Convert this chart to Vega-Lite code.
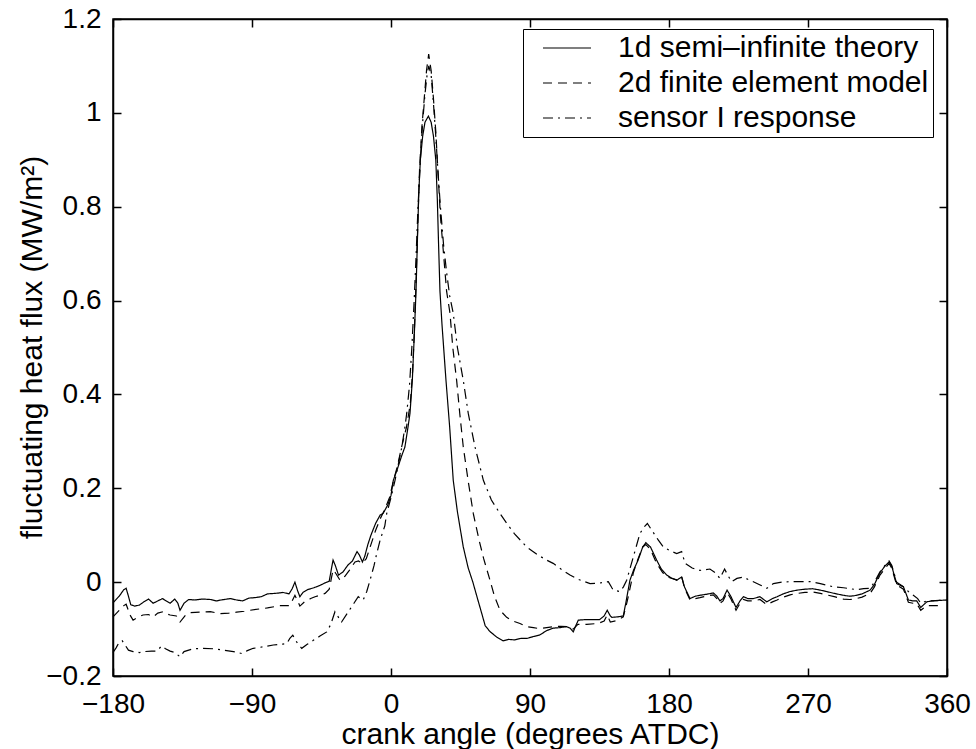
{
"$schema":"https://vega.github.io/schema/vega-lite/v6.json",
"autosize":"none",
"width":834,"height":657,
"padding":{"left":113,"top":19,"right":29,"bottom":73},
"background":"white",
"config":{"view":{"stroke":"black","strokeWidth":1.5},"font":"Liberation Sans"},
"datasets":{"flux":[
{"s":"theory","x":-180,"y":-0.044},{"s":"theory","x":-176,"y":-0.03},{"s":"theory","x":-173,"y":-0.016},{"s":"theory","x":-171.5,"y":-0.013},{"s":"theory","x":-170,"y":-0.03},{"s":"theory","x":-168.5,"y":-0.048},{"s":"theory","x":-166,"y":-0.051},{"s":"theory","x":-163,"y":-0.049},{"s":"theory","x":-160,"y":-0.042},{"s":"theory","x":-157,"y":-0.036},{"s":"theory","x":-154,"y":-0.045},{"s":"theory","x":-151,"y":-0.04},{"s":"theory","x":-148,"y":-0.035},{"s":"theory","x":-145.5,"y":-0.04},{"s":"theory","x":-143,"y":-0.045},{"s":"theory","x":-140,"y":-0.036},{"s":"theory","x":-138,"y":-0.045},{"s":"theory","x":-136.6,"y":-0.06},{"s":"theory","x":-134,"y":-0.045},{"s":"theory","x":-131,"y":-0.037},{"s":"theory","x":-127,"y":-0.038},{"s":"theory","x":-122,"y":-0.036},{"s":"theory","x":-117,"y":-0.037},{"s":"theory","x":-113,"y":-0.04},{"s":"theory","x":-110,"y":-0.038},{"s":"theory","x":-104,"y":-0.035},{"s":"theory","x":-100,"y":-0.038},{"s":"theory","x":-96,"y":-0.04},{"s":"theory","x":-92,"y":-0.034},{"s":"theory","x":-88,"y":-0.033},{"s":"theory","x":-84,"y":-0.031},{"s":"theory","x":-80,"y":-0.025},{"s":"theory","x":-75,"y":-0.024},{"s":"theory","x":-70,"y":-0.022},{"s":"theory","x":-66,"y":-0.025},{"s":"theory","x":-64,"y":-0.014},{"s":"theory","x":-62.2,"y":0.0},{"s":"theory","x":-60.5,"y":-0.018},{"s":"theory","x":-59,"y":-0.031},{"s":"theory","x":-57,"y":-0.022},{"s":"theory","x":-54,"y":-0.016},{"s":"theory","x":-50,"y":-0.012},{"s":"theory","x":-46,"y":-0.007},{"s":"theory","x":-43,"y":-0.002},{"s":"theory","x":-40,"y":0.002},{"s":"theory","x":-38.5,"y":0.03},{"s":"theory","x":-37.5,"y":0.047},{"s":"theory","x":-36,"y":0.035},{"s":"theory","x":-34,"y":0.015},{"s":"theory","x":-31,"y":0.022},{"s":"theory","x":-28,"y":0.036},{"s":"theory","x":-25,"y":0.045},{"s":"theory","x":-22,"y":0.065},{"s":"theory","x":-20.5,"y":0.058},{"s":"theory","x":-18.5,"y":0.043},{"s":"theory","x":-17,"y":0.055},{"s":"theory","x":-15,"y":0.08},{"s":"theory","x":-13,"y":0.1},{"s":"theory","x":-10,"y":0.125},{"s":"theory","x":-7,"y":0.143},{"s":"theory","x":-5,"y":0.147},{"s":"theory","x":-2,"y":0.165},{"s":"theory","x":0,"y":0.185},{"s":"theory","x":1.5,"y":0.217},{"s":"theory","x":4,"y":0.24},{"s":"theory","x":7,"y":0.27},{"s":"theory","x":9,"y":0.288},{"s":"theory","x":11,"y":0.33},{"s":"theory","x":12.3,"y":0.36},{"s":"theory","x":13.8,"y":0.43},{"s":"theory","x":15,"y":0.52},{"s":"theory","x":16.2,"y":0.62},{"s":"theory","x":17.2,"y":0.74},{"s":"theory","x":18,"y":0.83},{"s":"theory","x":19,"y":0.9},{"s":"theory","x":20.5,"y":0.95},{"s":"theory","x":22,"y":0.98},{"s":"theory","x":24.2,"y":0.993},{"s":"theory","x":26,"y":0.98},{"s":"theory","x":27.5,"y":0.95},{"s":"theory","x":29,"y":0.9},{"s":"theory","x":30,"y":0.815},{"s":"theory","x":30.8,"y":0.72},{"s":"theory","x":31.7,"y":0.62},{"s":"theory","x":33,"y":0.55},{"s":"theory","x":35.6,"y":0.43},{"s":"theory","x":38,"y":0.33},{"s":"theory","x":40.3,"y":0.217},{"s":"theory","x":43,"y":0.15},{"s":"theory","x":46.8,"y":0.075},{"s":"theory","x":50,"y":0.03},{"s":"theory","x":53,"y":0.0},{"s":"theory","x":56,"y":-0.035},{"s":"theory","x":58.7,"y":-0.066},{"s":"theory","x":61,"y":-0.093},{"s":"theory","x":64,"y":-0.105},{"s":"theory","x":68.4,"y":-0.117},{"s":"theory","x":72.5,"y":-0.125},{"s":"theory","x":76,"y":-0.122},{"s":"theory","x":80,"y":-0.123},{"s":"theory","x":84,"y":-0.12},{"s":"theory","x":88,"y":-0.12},{"s":"theory","x":92,"y":-0.116},{"s":"theory","x":96,"y":-0.113},{"s":"theory","x":101,"y":-0.103},{"s":"theory","x":105,"y":-0.098},{"s":"theory","x":109,"y":-0.097},{"s":"theory","x":113.8,"y":-0.095},{"s":"theory","x":116,"y":-0.098},{"s":"theory","x":118,"y":-0.106},{"s":"theory","x":120,"y":-0.09},{"s":"theory","x":121.3,"y":-0.081},{"s":"theory","x":125,"y":-0.08},{"s":"theory","x":130,"y":-0.08},{"s":"theory","x":135,"y":-0.08},{"s":"theory","x":138,"y":-0.072},{"s":"theory","x":140,"y":-0.06},{"s":"theory","x":142,"y":-0.072},{"s":"theory","x":143,"y":-0.075},{"s":"theory","x":147,"y":-0.074},{"s":"theory","x":150.4,"y":-0.072},{"s":"theory","x":152,"y":-0.045},{"s":"theory","x":154.7,"y":0.004},{"s":"theory","x":157,"y":0.025},{"s":"theory","x":160,"y":0.047},{"s":"theory","x":163,"y":0.075},{"s":"theory","x":165,"y":0.084},{"s":"theory","x":168,"y":0.075},{"s":"theory","x":172,"y":0.047},{"s":"theory","x":175,"y":0.028},{"s":"theory","x":178.5,"y":0.015},{"s":"theory","x":182,"y":0.008},{"s":"theory","x":185,"y":0.004},{"s":"theory","x":188.2,"y":0.011},{"s":"theory","x":190,"y":-0.01},{"s":"theory","x":193.6,"y":-0.035},{"s":"theory","x":197,"y":-0.03},{"s":"theory","x":200,"y":-0.028},{"s":"theory","x":204,"y":-0.026},{"s":"theory","x":208.7,"y":-0.023},{"s":"theory","x":211,"y":-0.03},{"s":"theory","x":213,"y":-0.04},{"s":"theory","x":215,"y":-0.035},{"s":"theory","x":217.6,"y":-0.017},{"s":"theory","x":220,"y":-0.03},{"s":"theory","x":223.4,"y":-0.054},{"s":"theory","x":226,"y":-0.04},{"s":"theory","x":228.2,"y":-0.031},{"s":"theory","x":231,"y":-0.035},{"s":"theory","x":234.6,"y":-0.035},{"s":"theory","x":238.9,"y":-0.031},{"s":"theory","x":243.3,"y":-0.042},{"s":"theory","x":247,"y":-0.035},{"s":"theory","x":250,"y":-0.031},{"s":"theory","x":254,"y":-0.025},{"s":"theory","x":258.4,"y":-0.02},{"s":"theory","x":263,"y":-0.017},{"s":"theory","x":268,"y":-0.015},{"s":"theory","x":273,"y":-0.014},{"s":"theory","x":278,"y":-0.017},{"s":"theory","x":282,"y":-0.02},{"s":"theory","x":287,"y":-0.024},{"s":"theory","x":292.9,"y":-0.028},{"s":"theory","x":297,"y":-0.03},{"s":"theory","x":300,"y":-0.029},{"s":"theory","x":305,"y":-0.025},{"s":"theory","x":310.2,"y":-0.017},{"s":"theory","x":313,"y":-0.005},{"s":"theory","x":316.6,"y":0.02},{"s":"theory","x":320,"y":0.035},{"s":"theory","x":322.5,"y":0.043},{"s":"theory","x":324.2,"y":0.034},{"s":"theory","x":327.4,"y":-0.003},{"s":"theory","x":331.8,"y":-0.01},{"s":"theory","x":335,"y":-0.038},{"s":"theory","x":338,"y":-0.04},{"s":"theory","x":340.4,"y":-0.04},{"s":"theory","x":343,"y":-0.054},{"s":"theory","x":346.9,"y":-0.042},{"s":"theory","x":350,"y":-0.04},{"s":"theory","x":355,"y":-0.039},{"s":"theory","x":360,"y":-0.038},
{"s":"fem","x":-180,"y":-0.074},{"s":"fem","x":-176,"y":-0.06},{"s":"fem","x":-173,"y":-0.05},{"s":"fem","x":-171.5,"y":-0.047},{"s":"fem","x":-169,"y":-0.07},{"s":"fem","x":-167,"y":-0.081},{"s":"fem","x":-164,"y":-0.075},{"s":"fem","x":-160.6,"y":-0.07},{"s":"fem","x":-157,"y":-0.069},{"s":"fem","x":-154,"y":-0.074},{"s":"fem","x":-151,"y":-0.066},{"s":"fem","x":-147.6,"y":-0.063},{"s":"fem","x":-145,"y":-0.068},{"s":"fem","x":-143,"y":-0.07},{"s":"fem","x":-139,"y":-0.072},{"s":"fem","x":-136.6,"y":-0.085},{"s":"fem","x":-133,"y":-0.07},{"s":"fem","x":-130,"y":-0.065},{"s":"fem","x":-124,"y":-0.064},{"s":"fem","x":-117,"y":-0.063},{"s":"fem","x":-110.7,"y":-0.067},{"s":"fem","x":-105,"y":-0.066},{"s":"fem","x":-100,"y":-0.064},{"s":"fem","x":-95,"y":-0.062},{"s":"fem","x":-91.3,"y":-0.06},{"s":"fem","x":-85,"y":-0.057},{"s":"fem","x":-80,"y":-0.055},{"s":"fem","x":-72,"y":-0.05},{"s":"fem","x":-66,"y":-0.05},{"s":"fem","x":-64,"y":-0.04},{"s":"fem","x":-62.2,"y":-0.028},{"s":"fem","x":-60.5,"y":-0.04},{"s":"fem","x":-59,"y":-0.051},{"s":"fem","x":-56,"y":-0.042},{"s":"fem","x":-52,"y":-0.035},{"s":"fem","x":-49.2,"y":-0.031},{"s":"fem","x":-45,"y":-0.027},{"s":"fem","x":-42.7,"y":-0.024},{"s":"fem","x":-40,"y":-0.015},{"s":"fem","x":-38.5,"y":0.01},{"s":"fem","x":-37.5,"y":0.026},{"s":"fem","x":-36,"y":0.02},{"s":"fem","x":-33,"y":0.004},{"s":"fem","x":-30,"y":0.012},{"s":"fem","x":-27,"y":0.025},{"s":"fem","x":-23.3,"y":0.043},{"s":"fem","x":-21,"y":0.045},{"s":"fem","x":-18.8,"y":0.04},{"s":"fem","x":-16,"y":0.05},{"s":"fem","x":-13,"y":0.08},{"s":"fem","x":-10,"y":0.11},{"s":"fem","x":-7,"y":0.135},{"s":"fem","x":-4,"y":0.155},{"s":"fem","x":-1,"y":0.18},{"s":"fem","x":1.5,"y":0.215},{"s":"fem","x":4,"y":0.245},{"s":"fem","x":7,"y":0.29},{"s":"fem","x":10,"y":0.33},{"s":"fem","x":12.5,"y":0.38},{"s":"fem","x":14,"y":0.45},{"s":"fem","x":15.3,"y":0.55},{"s":"fem","x":16.5,"y":0.67},{"s":"fem","x":17.5,"y":0.78},{"s":"fem","x":18.5,"y":0.88},{"s":"fem","x":20,"y":0.97},{"s":"fem","x":21.5,"y":1.03},{"s":"fem","x":23,"y":1.09},{"s":"fem","x":24.4,"y":1.125},{"s":"fem","x":26,"y":1.09},{"s":"fem","x":27.5,"y":1.03},{"s":"fem","x":29,"y":0.96},{"s":"fem","x":30.5,"y":0.87},{"s":"fem","x":32,"y":0.78},{"s":"fem","x":34,"y":0.7},{"s":"fem","x":36,"y":0.62},{"s":"fem","x":38.2,"y":0.573},{"s":"fem","x":40,"y":0.5},{"s":"fem","x":42.5,"y":0.43},{"s":"fem","x":44.5,"y":0.36},{"s":"fem","x":46.8,"y":0.288},{"s":"fem","x":50,"y":0.215},{"s":"fem","x":53.3,"y":0.146},{"s":"fem","x":57,"y":0.09},{"s":"fem","x":60,"y":0.05},{"s":"fem","x":64.1,"y":0.004},{"s":"fem","x":67,"y":-0.03},{"s":"fem","x":70.6,"y":-0.06},{"s":"fem","x":74.9,"y":-0.075},{"s":"fem","x":79,"y":-0.083},{"s":"fem","x":83.5,"y":-0.088},{"s":"fem","x":88,"y":-0.095},{"s":"fem","x":92.2,"y":-0.097},{"s":"fem","x":96,"y":-0.099},{"s":"fem","x":100.8,"y":-0.097},{"s":"fem","x":105,"y":-0.095},{"s":"fem","x":110,"y":-0.094},{"s":"fem","x":115,"y":-0.095},{"s":"fem","x":118,"y":-0.1},{"s":"fem","x":121,"y":-0.09},{"s":"fem","x":126.7,"y":-0.09},{"s":"fem","x":134,"y":-0.088},{"s":"fem","x":138,"y":-0.083},{"s":"fem","x":140,"y":-0.07},{"s":"fem","x":142,"y":-0.085},{"s":"fem","x":146,"y":-0.082},{"s":"fem","x":150.4,"y":-0.074},{"s":"fem","x":153,"y":-0.04},{"s":"fem","x":156.9,"y":0.02},{"s":"fem","x":160,"y":0.05},{"s":"fem","x":163,"y":0.075},{"s":"fem","x":165,"y":0.08},{"s":"fem","x":168,"y":0.07},{"s":"fem","x":172,"y":0.04},{"s":"fem","x":176,"y":0.02},{"s":"fem","x":180,"y":0.01},{"s":"fem","x":185,"y":0.005},{"s":"fem","x":188.2,"y":0.012},{"s":"fem","x":190,"y":-0.012},{"s":"fem","x":193.6,"y":-0.038},{"s":"fem","x":197,"y":-0.035},{"s":"fem","x":200,"y":-0.033},{"s":"fem","x":204,"y":-0.03},{"s":"fem","x":208.7,"y":-0.027},{"s":"fem","x":211,"y":-0.035},{"s":"fem","x":213,"y":-0.045},{"s":"fem","x":215,"y":-0.04},{"s":"fem","x":217.6,"y":-0.022},{"s":"fem","x":220,"y":-0.035},{"s":"fem","x":223.4,"y":-0.06},{"s":"fem","x":226,"y":-0.045},{"s":"fem","x":228.2,"y":-0.037},{"s":"fem","x":231,"y":-0.04},{"s":"fem","x":234.6,"y":-0.04},{"s":"fem","x":238.9,"y":-0.037},{"s":"fem","x":243.3,"y":-0.048},{"s":"fem","x":247,"y":-0.042},{"s":"fem","x":250,"y":-0.038},{"s":"fem","x":254,"y":-0.032},{"s":"fem","x":258.4,"y":-0.027},{"s":"fem","x":263,"y":-0.024},{"s":"fem","x":268,"y":-0.022},{"s":"fem","x":273,"y":-0.021},{"s":"fem","x":278,"y":-0.024},{"s":"fem","x":282,"y":-0.027},{"s":"fem","x":287,"y":-0.031},{"s":"fem","x":292.9,"y":-0.036},{"s":"fem","x":297,"y":-0.037},{"s":"fem","x":300,"y":-0.036},{"s":"fem","x":305,"y":-0.032},{"s":"fem","x":310.2,"y":-0.024},{"s":"fem","x":313,"y":-0.01},{"s":"fem","x":316.6,"y":0.015},{"s":"fem","x":320,"y":0.03},{"s":"fem","x":322.5,"y":0.04},{"s":"fem","x":324.2,"y":0.03},{"s":"fem","x":327.4,"y":-0.006},{"s":"fem","x":331.8,"y":-0.015},{"s":"fem","x":335,"y":-0.043},{"s":"fem","x":338,"y":-0.045},{"s":"fem","x":340.4,"y":-0.046},{"s":"fem","x":343,"y":-0.06},{"s":"fem","x":346.9,"y":-0.05},{"s":"fem","x":350,"y":-0.05},{"s":"fem","x":355,"y":-0.05},
{"s":"sensor","x":-180,"y":-0.15},{"s":"sensor","x":-178,"y":-0.14},{"s":"sensor","x":-176,"y":-0.128},{"s":"sensor","x":-174,"y":-0.125},{"s":"sensor","x":-172,"y":-0.135},{"s":"sensor","x":-170,"y":-0.145},{"s":"sensor","x":-167,"y":-0.148},{"s":"sensor","x":-163,"y":-0.15},{"s":"sensor","x":-160,"y":-0.148},{"s":"sensor","x":-155,"y":-0.147},{"s":"sensor","x":-151.7,"y":-0.147},{"s":"sensor","x":-148.5,"y":-0.136},{"s":"sensor","x":-146,"y":-0.142},{"s":"sensor","x":-143,"y":-0.147},{"s":"sensor","x":-140,"y":-0.15},{"s":"sensor","x":-136.6,"y":-0.159},{"s":"sensor","x":-134,"y":-0.148},{"s":"sensor","x":-128,"y":-0.142},{"s":"sensor","x":-122,"y":-0.141},{"s":"sensor","x":-115,"y":-0.142},{"s":"sensor","x":-108,"y":-0.145},{"s":"sensor","x":-102,"y":-0.148},{"s":"sensor","x":-96.7,"y":-0.152},{"s":"sensor","x":-93,"y":-0.146},{"s":"sensor","x":-89.2,"y":-0.141},{"s":"sensor","x":-83,"y":-0.138},{"s":"sensor","x":-76.2,"y":-0.134},{"s":"sensor","x":-70,"y":-0.132},{"s":"sensor","x":-67.5,"y":-0.131},{"s":"sensor","x":-65.5,"y":-0.12},{"s":"sensor","x":-63.6,"y":-0.113},{"s":"sensor","x":-61,"y":-0.128},{"s":"sensor","x":-57.8,"y":-0.141},{"s":"sensor","x":-54,"y":-0.132},{"s":"sensor","x":-50.3,"y":-0.124},{"s":"sensor","x":-46,"y":-0.115},{"s":"sensor","x":-41.6,"y":-0.106},{"s":"sensor","x":-39,"y":-0.09},{"s":"sensor","x":-36.3,"y":-0.063},{"s":"sensor","x":-34,"y":-0.075},{"s":"sensor","x":-32,"y":-0.085},{"s":"sensor","x":-28,"y":-0.065},{"s":"sensor","x":-24,"y":-0.045},{"s":"sensor","x":-21.2,"y":-0.031},{"s":"sensor","x":-19.5,"y":-0.035},{"s":"sensor","x":-18,"y":-0.038},{"s":"sensor","x":-15.7,"y":-0.02},{"s":"sensor","x":-13.6,"y":0.004},{"s":"sensor","x":-11,"y":0.035},{"s":"sensor","x":-9.3,"y":0.06},{"s":"sensor","x":-7,"y":0.09},{"s":"sensor","x":-4,"y":0.12},{"s":"sensor","x":-2.8,"y":0.146},{"s":"sensor","x":0,"y":0.18},{"s":"sensor","x":2.6,"y":0.217},{"s":"sensor","x":5,"y":0.255},{"s":"sensor","x":7,"y":0.288},{"s":"sensor","x":9,"y":0.33},{"s":"sensor","x":10.2,"y":0.36},{"s":"sensor","x":12,"y":0.42},{"s":"sensor","x":13.5,"y":0.5},{"s":"sensor","x":15,"y":0.6},{"s":"sensor","x":16.3,"y":0.7},{"s":"sensor","x":17.5,"y":0.8},{"s":"sensor","x":19,"y":0.9},{"s":"sensor","x":20.5,"y":0.98},{"s":"sensor","x":22,"y":1.04},{"s":"sensor","x":23.5,"y":1.085},{"s":"sensor","x":24.5,"y":1.1},{"s":"sensor","x":26,"y":1.08},{"s":"sensor","x":27.5,"y":1.02},{"s":"sensor","x":29,"y":0.95},{"s":"sensor","x":30.5,"y":0.87},{"s":"sensor","x":32,"y":0.8},{"s":"sensor","x":34,"y":0.72},{"s":"sensor","x":36,"y":0.66},{"s":"sensor","x":38,"y":0.61},{"s":"sensor","x":40.3,"y":0.573},{"s":"sensor","x":43,"y":0.5},{"s":"sensor","x":46.8,"y":0.43},{"s":"sensor","x":50,"y":0.36},{"s":"sensor","x":54.4,"y":0.288},{"s":"sensor","x":59.8,"y":0.217},{"s":"sensor","x":65,"y":0.175},{"s":"sensor","x":70.6,"y":0.146},{"s":"sensor","x":75,"y":0.125},{"s":"sensor","x":80,"y":0.103},{"s":"sensor","x":87.8,"y":0.075},{"s":"sensor","x":95,"y":0.058},{"s":"sensor","x":100.8,"y":0.047},{"s":"sensor","x":105,"y":0.04},{"s":"sensor","x":110,"y":0.028},{"s":"sensor","x":115.9,"y":0.015},{"s":"sensor","x":122,"y":0.005},{"s":"sensor","x":128.9,"y":-0.003},{"s":"sensor","x":135,"y":-0.002},{"s":"sensor","x":138,"y":0.0},{"s":"sensor","x":140.7,"y":0.001},{"s":"sensor","x":143,"y":-0.012},{"s":"sensor","x":144,"y":-0.017},{"s":"sensor","x":148.3,"y":-0.02},{"s":"sensor","x":150.5,"y":-0.01},{"s":"sensor","x":152.6,"y":0.004},{"s":"sensor","x":157,"y":0.055},{"s":"sensor","x":161.2,"y":0.104},{"s":"sensor","x":164,"y":0.118},{"s":"sensor","x":166,"y":0.125},{"s":"sensor","x":170,"y":0.105},{"s":"sensor","x":173,"y":0.09},{"s":"sensor","x":176.3,"y":0.075},{"s":"sensor","x":180,"y":0.068},{"s":"sensor","x":185,"y":0.061},{"s":"sensor","x":188.2,"y":0.065},{"s":"sensor","x":190.4,"y":0.04},{"s":"sensor","x":195,"y":0.03},{"s":"sensor","x":200,"y":0.025},{"s":"sensor","x":206.5,"y":0.028},{"s":"sensor","x":210,"y":0.02},{"s":"sensor","x":213,"y":0.008},{"s":"sensor","x":216,"y":0.028},{"s":"sensor","x":218,"y":0.015},{"s":"sensor","x":220.6,"y":0.001},{"s":"sensor","x":224,"y":0.008},{"s":"sensor","x":228.2,"y":0.011},{"s":"sensor","x":231,"y":0.006},{"s":"sensor","x":234.6,"y":0.001},{"s":"sensor","x":239,"y":-0.006},{"s":"sensor","x":243.3,"y":-0.013},{"s":"sensor","x":247.6,"y":-0.003},{"s":"sensor","x":253,"y":0.0},{"s":"sensor","x":258.4,"y":0.001},{"s":"sensor","x":265,"y":0.001},{"s":"sensor","x":271.3,"y":0.001},{"s":"sensor","x":278,"y":-0.003},{"s":"sensor","x":286.4,"y":-0.01},{"s":"sensor","x":293,"y":-0.012},{"s":"sensor","x":301.5,"y":-0.016},{"s":"sensor","x":306,"y":-0.014},{"s":"sensor","x":310.2,"y":-0.013},{"s":"sensor","x":313,"y":0.0},{"s":"sensor","x":316.6,"y":0.022},{"s":"sensor","x":320,"y":0.036},{"s":"sensor","x":322.5,"y":0.045},{"s":"sensor","x":324.2,"y":0.036},{"s":"sensor","x":327.4,"y":0.0},{"s":"sensor","x":331.8,"y":-0.01},{"s":"sensor","x":335,"y":-0.02},{"s":"sensor","x":338.2,"y":-0.028},{"s":"sensor","x":341,"y":-0.035},{"s":"sensor","x":343,"y":-0.045},{"s":"sensor","x":346.9,"y":-0.04},{"s":"sensor","x":350,"y":-0.04},{"s":"sensor","x":355,"y":-0.039},{"s":"sensor","x":360,"y":-0.038}
]},
"data":{"name":"flux"},
"layer":[
{"mark":{"type":"line","color":"black","strokeWidth":1.2},
 "encoding":{
  "x":{"field":"x","type":"quantitative","scale":{"domain":[-180,360],"nice":false,"zero":false},
   "axis":{"orient":"bottom","values":[-180,-90,0,90,180,270,360],"format":"d","grid":false,"tickSize":-8,"labelPadding":22,"tickColor":"black","tickWidth":1.5,"domainColor":"black","domainWidth":1.5,"labelFont":"Liberation Sans","labelFontSize":28,"labelColor":"black","labelFlush":false,"labelOverlap":false,"title":"crank angle (degrees ATDC)","titleFont":"Liberation Sans","titleFontSize":30,"titleFontWeight":"normal","titleColor":"black","titleY":58,"titleBaseline":"middle"}},
  "y":{"field":"y","type":"quantitative","scale":{"domain":[-0.2,1.2],"nice":false,"zero":false},
   "axis":{"orient":"left","values":[-0.2,0,0.2,0.4,0.6,0.8,1,1.2],"format":"~g","grid":false,"tickSize":-8,"labelPadding":20,"tickColor":"black","tickWidth":1.5,"domainColor":"black","domainWidth":1.5,"labelFont":"Liberation Sans","labelFontSize":28,"labelColor":"black","labelFlush":false,"labelOverlap":false,"title":"fluctuating heat flux (MW/m²)","titleFont":"Liberation Sans","titleFontSize":30,"titleFontWeight":"normal","titleColor":"black","titleX":-81,"titleY":328,"titleBaseline":"middle","titleAlign":"center","titleAngle":-90}},
  "strokeDash":{"field":"s","type":"nominal","scale":{"domain":["theory","fem","sensor"],"range":[[1,0],[9,6],[10,5,2,5]]},
   "legend":{"title":null,"orient":"none","legendX":410,"legendY":10,"symbolType":"M-2,0H2","symbolSize":576,"symbolOffset":25,"symbolStrokeColor":"black","symbolStrokeWidth":1.2,"labelFont":"Liberation Sans","labelFontSize":30,"labelColor":"black","labelOffset":36,"labelLimit":0,"padding":4,"rowPadding":5,"strokeColor":"black","fillColor":"white","labelExpr":"datum.label == 'theory' ? '1d semi–infinite theory' : datum.label == 'fem' ? '2d finite element model ' : 'sensor I response'"}}
 }},
{"mark":{"type":"point","opacity":0},
 "encoding":{
  "x":{"field":"x","type":"quantitative","axis":{"orient":"top","values":[-180,-90,0,90,180,270,360],"labels":false,"grid":false,"tickSize":-8,"tickColor":"black","tickWidth":1.5,"domainColor":"black","domainWidth":1.5,"title":null}},
  "y":{"field":"y","type":"quantitative","axis":{"orient":"right","values":[-0.2,0,0.2,0.4,0.6,0.8,1,1.2],"labels":false,"grid":false,"tickSize":-8,"tickColor":"black","tickWidth":1.5,"domainColor":"black","domainWidth":1.5,"title":null}}
 }}
],
"resolve":{"axis":{"x":"independent","y":"independent"}}
}
